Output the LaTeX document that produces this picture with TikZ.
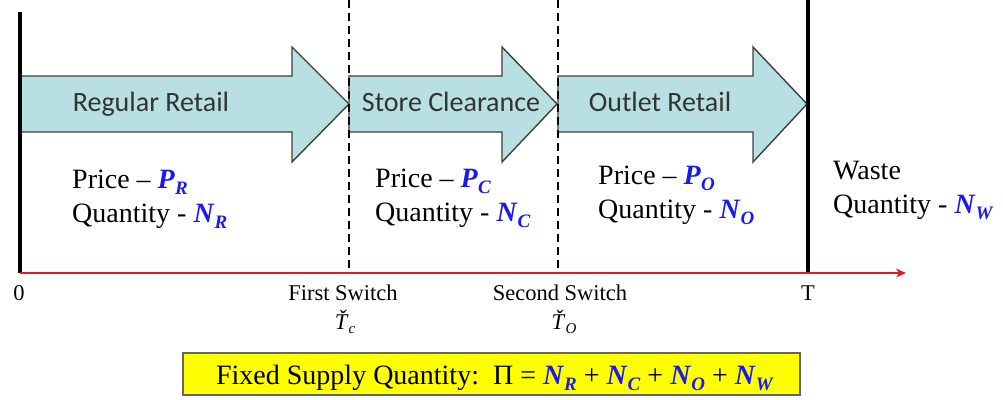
\documentclass[tikz,border=0pt]{standalone}
\usepackage{fontspec}
\setmainfont{Liberation Serif}
\newfontfamily\labelfont{Carlito}
\usetikzlibrary{positioning}
\usetikzlibrary{arrows.meta}

\definecolor{arrowfill}{HTML}{B8DFE2}
\definecolor{arrowline}{HTML}{3F3F3F}
\definecolor{axisred}{HTML}{D81E1E}
\definecolor{symblue}{HTML}{1A1AF0}
\definecolor{boxyellow}{HTML}{FFFF00}

% blue symbol with subscript
\newcommand{\qsym}[2]{\textcolor{symblue}{\textbf{\textit{#1}}\raisebox{-0.22em}{\fontsize{19}{19}\selectfont\textbf{\textit{#2}}}}}
% switch time
\newcommand{\switchtime}[1]{\textit{\v{T}}\raisebox{-0.2em}{\fontsize{15}{15}\selectfont\textit{#1}}}
% block arrow: tail x, head start x, tip x
\newcommand{\phasearrow}[3]{%
  \draw[phase] (#1,76) -- (#2,76) -- (#2,47) -- (#3,104) -- (#2,162) -- (#2,132) -- (#1,132) -- cycle;}

\begin{document}
\begin{tikzpicture}[x=1pt, y=-1pt]
  \tikzset{
    phase/.style={fill=arrowfill, draw=arrowline, line width=1.4pt, line join=miter},
    phasetext/.style={font=\labelfont\fontsize{28}{32}\selectfont, text=black!80, anchor=base, inner sep=0},
    infotext/.style={font=\fontsize{28}{34}\selectfont, align=left, anchor=base west, inner sep=0},
    ticktext/.style={font=\fontsize{22.5}{26}\selectfont, anchor=base, inner sep=0},
    bound/.style={line width=3.5pt, black},
    switch/.style={line width=1.3pt, dash pattern=on 8pt off 5pt, black},
  }
  \useasboundingbox (0,0) rectangle (1003,399);

  % phases
  \phasearrow{20}{292}{349}
  \phasearrow{349}{502}{557}
  \phasearrow{558}{753}{807}

  \node[phasetext] (regular) at (151,111) {Regular Retail};
  \node[phasetext] (clearance) at (451,111) {Store Clearance};
  \node[phasetext] (outlet) at (660,111) {Outlet Retail};

  % time axis
  \coordinate (origin) at (20,273);
  \coordinate (first) at (349,273);
  \coordinate (second) at (558,273);
  \coordinate (horizon) at (808,273);
  \coordinate (axisend) at (906,273);

  \draw[bound] (20,12) -- (origin);
  \draw[bound] (808,0) -- (horizon);
  \draw[switch] (349,0) -- (first);
  \draw[switch] (558,0) -- (second);
  \draw[axisred, line width=1.8pt, -{Stealth[length=10pt, width=9pt]}] (origin) -- (axisend);

  \node[ticktext] (zero) at (19,300) {0};
  \node[ticktext] (firstlbl) at (343,300) {First Switch};
  \node[ticktext] (firstt) at (345,329) {\switchtime{c}};
  \node[ticktext] (secondlbl) at (560,300) {Second Switch};
  \node[ticktext] (secondt) at (564,329) {\switchtime{O}};
  \node[ticktext] (tlbl) at (808,300) {T};

  % prices and quantities (base = last line)
  \node[infotext] (regularinfo) at (72,222) {Price -- \qsym{P}{R}\\Quantity - \qsym{N}{R}};
  \node[infotext] (clearinfo) at (375,221) {Price -- \qsym{P}{C}\\Quantity - \qsym{N}{C}};
  \node[infotext] (outletinfo) at (598,218) {Price -- \qsym{P}{O}\\Quantity - \qsym{N}{O}};
  \node[infotext] (wasteinfo) at (833,213) {Waste\\Quantity - \qsym{N}{W}};

  % supply constraint
  \draw[fill=boxyellow, draw=black!60, line width=1.2pt] (183,353) rectangle (800,395);
  \node[font=\fontsize{28}{30}\selectfont, anchor=base, inner sep=0] (supply) at (495,384)
    {Fixed Supply Quantity:\ \ Π = \qsym{N}{R} + \qsym{N}{C} + \qsym{N}{O} + \qsym{N}{W}};
\end{tikzpicture}
\end{document}
